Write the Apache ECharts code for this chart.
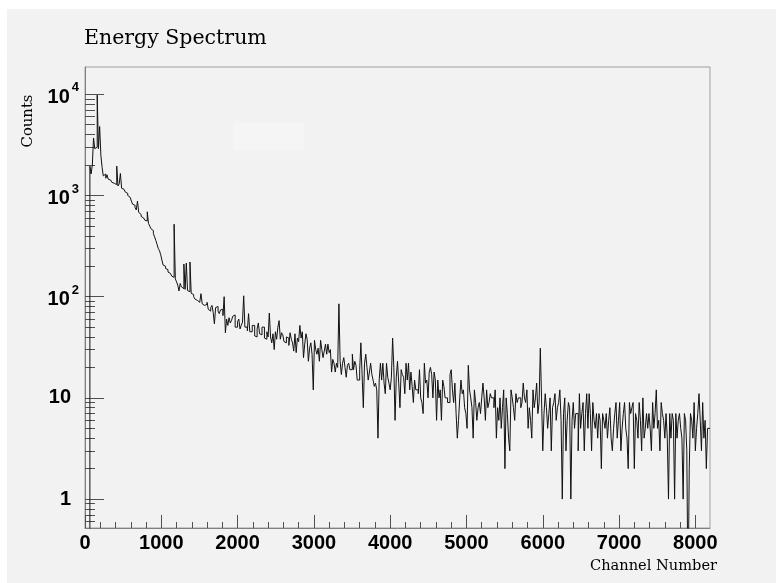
<!DOCTYPE html>
<html><head><meta charset="utf-8">
<script src="https://cdn.jsdelivr.net/npm/echarts@6/dist/echarts.min.js"></script>
<style>html,body{margin:0;padding:0;background:#fff;}#c{width:776px;height:583px;}</style>
</head><body><div id="c"></div>
<script>
// ---- data ----
const binWidth = 16; // channels per bin
const counts = [
0.1,0.1,0.1,0.1,1950,1630,2000,3700,2900,3000,
9800,2900,4800,2500,1900,1560,1630,1480,1600,1450,
1420,1380,1350,1320,1300,1280,1950,1240,1300,1650,
1180,1150,1100,1080,1050,1000,960,930,880,820,
800,760,720,880,680,650,620,600,590,570,
560,690,530,500,470,450,420,390,360,330,
300,285,260,230,205,200,190,185,175,170,
165,160,155,520,150,140,130,114,135,125,
120,210,118,215,115,112,220,108,105,100,
95,92,90,88,88,107,85,82,80,84,
88,75,72,78,82,70,54,78,80,72,
68,74,75,65,100,44,60,52,62,55,
58,64,66,50,50,57,60,48,52,56,
102,50,50,46,68,45,45,52,52,41,
40,48,55,43,42,50,50,39,38,45,
40,69,40,35,43,30,45,38,50,58,
38,44,42,36,35,40,39,33,44,38,
35,29,43,28,39,36,52,39,45,25,
34,43,38,23,31,35,27,12,37,30,
27,31,23,37,30,25,29,34,27,34,
28,30,18,24,22,18,22,20,85,23,
17,22,25,20,16,21,22,19,19,27,
19,23,21,15,15,19,35,17,8,22,
27,20,15,18,22,17,15,13,14,12,
4,15,22,15,22,14,11,22,16,14,
12,16,39,20,6,16,23,14,8,19,
17,16,11,22,15,22,12,18,13,9,
15,12,12,11,19,10,9,7,22,14,
15,10,18,20,17,10,18,15,6,15,
10,12,6,15,13,10,10,9,9,17,
19,12,9,14,7,4,6,10,15,11,
12,8,7,5,21,12,10,8,4,12,
9,6,8,9,7,10,14,10,6,12,
8,9,11,10,10,8,12,4,8,6,
10,5,8,12,2,10,7,4,3,12,
10,8,6,11,9,10,10,8,9,14,
10,9,12,5,8,6,4,12,8,10,
14,7,9,31,10,3,7,11,8,5,
7,10,3,8,9,11,6,8,9,12,
6,1,7,10,3,6,9,8,1,6,
9,5,7,7,3,11,5,7,9,3,
7,11,5,11,7,3,9,6,5,7,
4,7,6,2,7,6,5,7,4,6,
8,4,3,5,7,9,4,6,9,3,
5,7,9,5,4,2,9,7,8,9,
2,7,6,4,9,6,3,10,4,5,
7,5,7,5,3,9,5,7,12,5,
6,3,9,7,6,4,7,4,1,7,
4,7,6,1,7,4,6,7,5,4,
1,7,6,3,0.1,2,7,6,4,9,
3,5,7,11,6,3,9,4,6,2,
5,5
];
const xMajorTicks = [0,1000,2000,3000,4000,5000,6000,7000,8000];
const yMajorTicks = [1,10,100,1000,10000];
const yMinorTicks = [0.6,0.7,0.8,0.9,2,3,4,5,6,7,8,9,20,30,40,50,60,70,80,90,200,300,400,500,600,700,800,900,2000,3000,4000,5000,6000,7000,8000,9000];
const xMinorTicks = [];
for (let v = 200; v < 8192; v += 200) { if (v % 1000 !== 0) xMinorTicks.push(v); }
const xMax = 8192, yMin = 0.518, yMax = 18600;

// histogram points: lower bin edges plus the closing edge
const pts = counts.map((c, i) => [i * binWidth, c]);
pts.push([counts.length * binWidth, counts[counts.length - 1]]);

const chart = echarts.init(document.getElementById('c'), null, {renderer: 'canvas'});
const axisCol = '#808080', tickCol = '#505050';
const option = {
  animation: false,
  backgroundColor: '#f2f2f2',
  grid: {left: 85, right: 66, top: 67, bottom: 55, show: true, borderColor: '#a0a0a0', borderWidth: 1, backgroundColor: 'transparent'},
  xAxis: [
    {type: 'value', min: 0, max: xMax, position: 'bottom',
     axisLine: {show: true, lineStyle: {color: axisCol, width: 1}},
     axisTick: {show: true, inside: true, length: 13, customValues: xMajorTicks, lineStyle: {color: tickCol}},
     axisLabel: {show: true, customValues: xMajorTicks, margin: 5, color: '#000', fontFamily: 'Liberation Sans', fontWeight: 'bold', fontSize: 20,
       formatter: function (v) { return String(v); }},
     splitLine: {show: false}},
    {type: 'value', min: 0, max: xMax, position: 'bottom',
     axisLine: {show: false},
     axisTick: {show: true, inside: true, length: 6, customValues: xMinorTicks, lineStyle: {color: tickCol}},
     axisLabel: {show: false}, splitLine: {show: false}}
  ],
  yAxis: [
    {type: 'log', logBase: 10, min: yMin, max: yMax, position: 'left',
     axisLine: {show: true, lineStyle: {color: axisCol, width: 1}},
     axisTick: {show: true, inside: true, length: 19, customValues: yMajorTicks, lineStyle: {color: tickCol}},
     axisLabel: {show: true, customValues: yMajorTicks, margin: 6, color: '#000',
       fontFamily: 'Liberation Sans', fontWeight: 'bold', fontSize: 20,
       formatter: function (v) {
         if (v < 100) return '{np|' + Math.round(v) + '}';
         const e = Math.round(Math.log10(v));
         return '{n|10}{s|' + e + '}';
       },
       rich: {
         np: {fontFamily: 'Liberation Sans', fontWeight: 'bold', fontSize: 20, color: '#000', padding: [0, 8, 0, 0]},
         n: {fontFamily: 'Liberation Sans', fontWeight: 'bold', fontSize: 20, color: '#000', lineHeight: 26, verticalAlign: 'bottom'},
         s: {fontFamily: 'Liberation Sans', fontWeight: 'bold', fontSize: 13, color: '#000', verticalAlign: 'top', padding: [0, 0, 0, 2]}
       }},
     splitLine: {show: false}},
    {type: 'log', logBase: 10, min: yMin, max: yMax, position: 'left',
     axisLine: {show: false},
     axisTick: {show: true, inside: true, length: 10, customValues: yMinorTicks, lineStyle: {color: tickCol}},
     axisLabel: {show: false}, splitLine: {show: false}}
  ],
  series: [{
    type: 'line', xAxisIndex: 0, yAxisIndex: 0, data: pts, step: 'end',
    symbol: 'none', showSymbol: false, silent: true, clip: true,
    lineStyle: {color: '#111', width: 1}
  }],
  graphic: [
    {type: 'rect', shape: {x: 0, y: 0, width: 776, height: 9}, style: {fill: '#fff'}, silent: true, z: 100},
    {type: 'rect', shape: {x: 0, y: 0, width: 7, height: 583}, style: {fill: '#fff'}, silent: true, z: 100},
    {type: 'rect', shape: {x: 7, y: 58, width: 1, height: 525}, style: {fill: '#ffff80'}, silent: true, z: 100},
    {type: 'rect', shape: {x: 397, y: 9, width: 379, height: 1}, style: {fill: '#ffff99'}, silent: true, z: 100},
    {type: 'rect', shape: {x: 233, y: 123, width: 71, height: 27}, style: {fill: '#f5f5f5'}, silent: true, z: -1},
    {type: 'text', x: 84, y: 39, style: {text: 'Energy Spectrum', font: '20.5px "DejaVu Serif"', fill: '#000', align: 'left', verticalAlign: 'middle'}, silent: true},
    {type: 'text', x: 28, y: 121, rotation: Math.PI / 2, style: {text: 'Counts', font: '14.8px "DejaVu Serif"', fill: '#000', align: 'center', verticalAlign: 'middle'}, silent: true},
    {type: 'text', x: 717, y: 566, style: {text: 'Channel Number', font: '14.6px "DejaVu Serif"', fill: '#000', align: 'right', verticalAlign: 'middle'}, silent: true}
  ]
};
chart.setOption(option);
</script></body></html>
